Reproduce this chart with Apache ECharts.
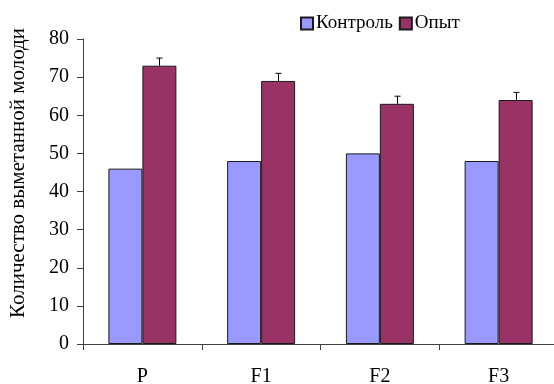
<!DOCTYPE html>
<html>
<head>
<meta charset="utf-8">
<script src="https://cdn.jsdelivr.net/npm/echarts@6/dist/echarts.min.js"></script>
<style>
  html, body { margin: 0; padding: 0; background: #fff; }
  #chart { width: 554px; height: 384px; }
</style>
</head>
<body>
<div id="chart"></div>
<script>
// Generations and the two groups compared
const categories = ['P', 'F1', 'F2', 'F3'];
const controlValues = [46, 48, 50, 48];
const experimentValues = [73, 69, 63, 64];
const experimentErrors = [2, 2, 2, 2];
const yTicks = [0, 10, 20, 30, 40, 50, 60, 70, 80];

const seriesNames = ['Контроль', 'Опыт'];
const axisTitle = 'Количество выметанной молоди';

const FONT = 'Liberation Serif';
const BAR_W = 34;

const chart = echarts.init(document.getElementById('chart'));

// Error whiskers above the "Опыт" bars (upper half only, with a cap)
const errorData = categories.map((c, i) => [i, experimentValues[i], experimentValues[i] + experimentErrors[i]]);

chart.setOption({
  animation: false,
  textStyle: { fontFamily: FONT },
  grid: { left: 83, top: 39, right: -4, bottom: 40, containLabel: false, outerBoundsMode: 'none' },
  legend: {
    top: 14,
    left: 300,
    padding: 0,
    itemWidth: 12,
    itemHeight: 12,
    itemGap: 6,
    icon: 'rect',
    textStyle: { fontFamily: FONT, fontSize: 19, color: '#000', padding: [0, 0, 0, -2] },
    data: seriesNames
  },
  graphic: [{
    type: 'text',
    x: 18,
    y: 173,
    rotation: Math.PI / 2,
    style: {
      text: axisTitle,
      fontFamily: FONT,
      fontSize: 21,
      fill: '#000',
      align: 'center',
      verticalAlign: 'middle'
    }
  }],
  xAxis: {
    type: 'category',
    data: categories,
    boundaryGap: true,
    axisLine: { lineStyle: { color: '#404040', width: 1 } },
    axisTick: { show: true, alignWithLabel: false, length: 6, lineStyle: { color: '#404040' } },
    axisLabel: { fontFamily: FONT, fontSize: 20, color: '#000', margin: 23 }
  },
  yAxis: {
    type: 'value',
    min: yTicks[0],
    max: yTicks[yTicks.length - 1],
    interval: yTicks[1] - yTicks[0],
    splitLine: { show: false },
    axisLine: { show: true, lineStyle: { color: '#404040', width: 1 } },
    axisTick: { show: true, length: 6, lineStyle: { color: '#404040' } },
    axisLabel: { fontFamily: FONT, fontSize: 20, color: '#000', margin: 14 }
  },
  series: [
    {
      name: seriesNames[0],
      type: 'bar',
      data: controlValues,
      barWidth: BAR_W,
      barGap: '0%',
      itemStyle: { color: '#9999FF', borderColor: '#1a1a1a', borderWidth: 1 }
    },
    {
      name: seriesNames[1],
      type: 'bar',
      data: experimentValues,
      barWidth: BAR_W,
      barGap: '0%',
      itemStyle: { color: '#993366', borderColor: '#1a1a1a', borderWidth: 1 }
    },
    {
      name: 'err',
      type: 'custom',
      data: errorData,
      z: 5,
      renderItem: function (params, api) {
        const base = api.coord([api.value(0), api.value(1)]);
        const top = api.coord([api.value(0), api.value(2)]);
        const x = Math.round(base[0] + BAR_W / 2) + 0.5;
        return {
          type: 'group',
          children: [
            { type: 'line', shape: { x1: x, y1: base[1], x2: x, y2: top[1] }, style: { stroke: '#000', lineWidth: 1 } },
            { type: 'line', shape: { x1: x - 3, y1: top[1], x2: x + 3, y2: top[1] }, style: { stroke: '#000', lineWidth: 1 } }
          ]
        };
      }
    }
  ]
});
</script>
</body>
</html>
